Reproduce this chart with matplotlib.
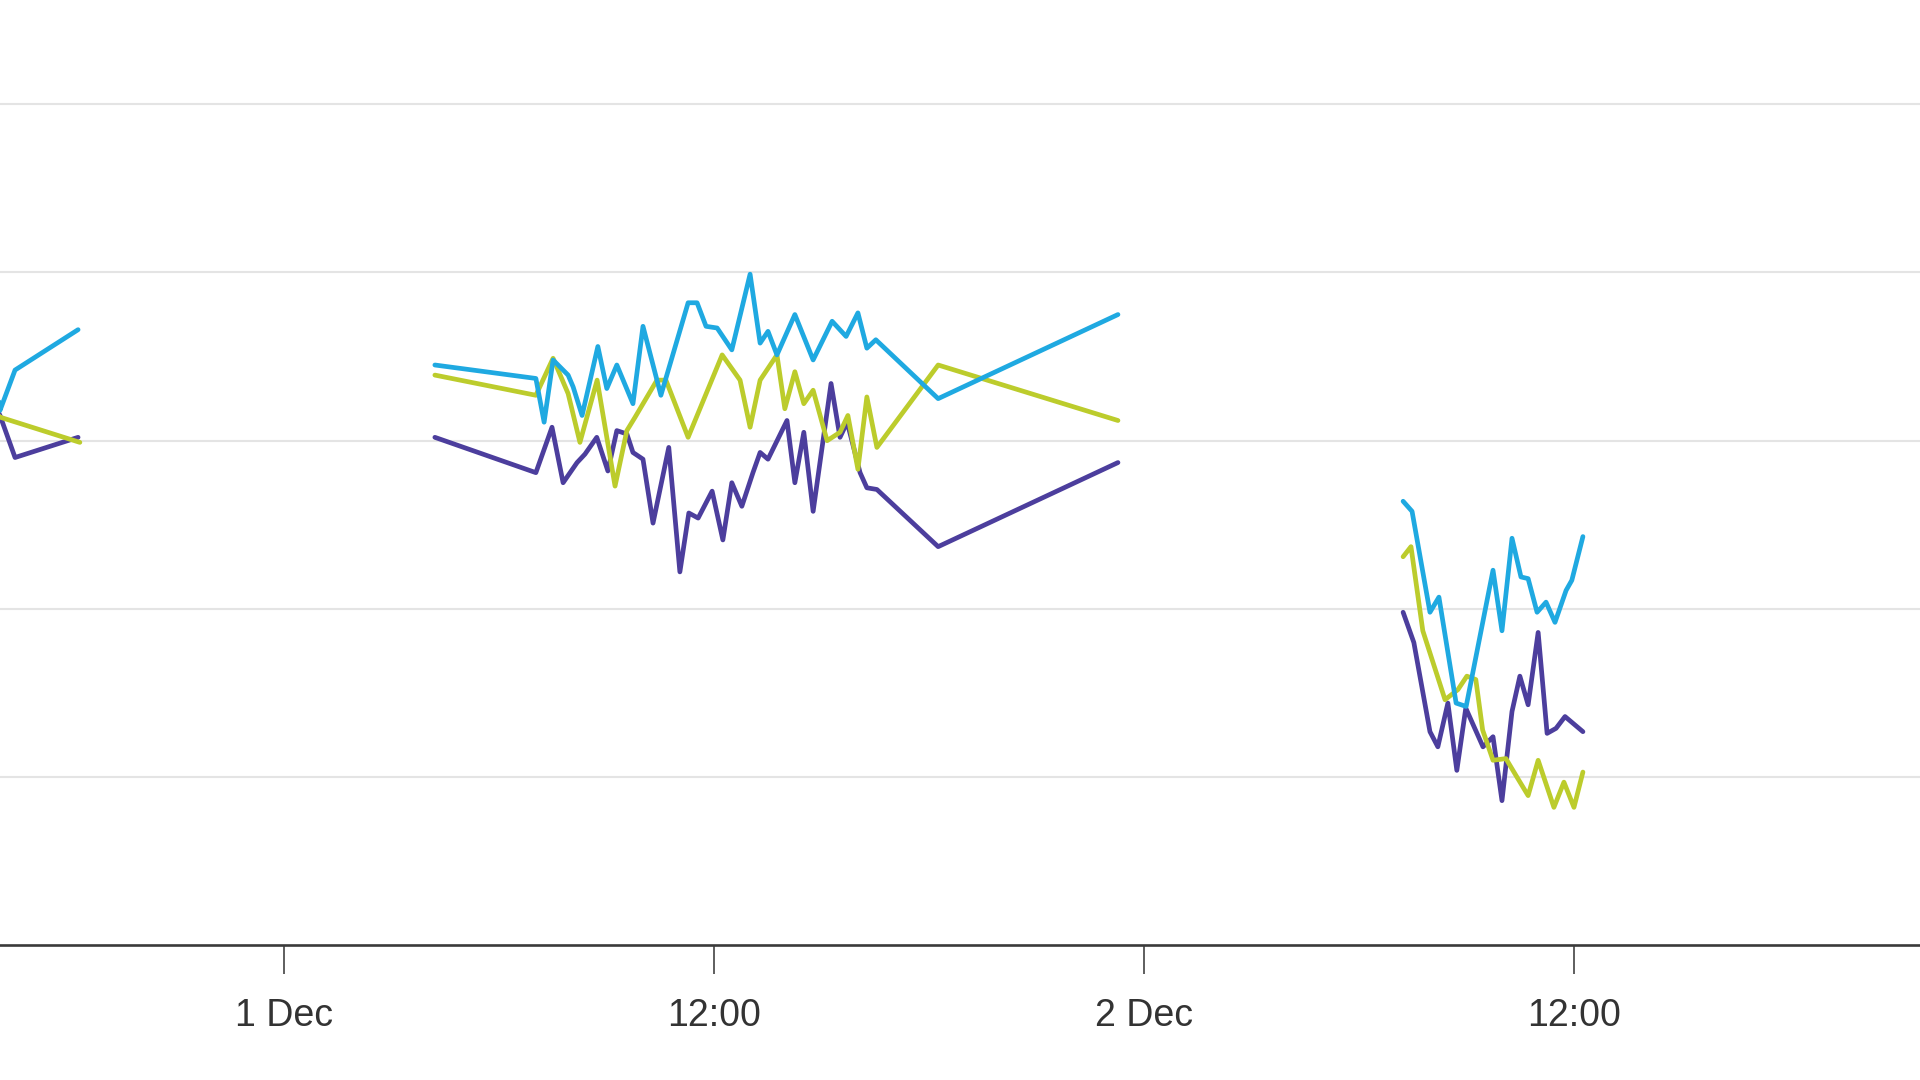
import numpy as np
import pandas as pd
import matplotlib
matplotlib.use('Agg')
import matplotlib.pyplot as plt

# hours after 1 Dec 00:00 (gridlines every 1 unit)
cyan_hours = [-8.16, -7.93, -7.51, -5.75,
              4.21, 7.03, 7.26, 7.51, 7.93, 8.07, 8.32, 8.76, 9.01, 9.29, 9.74,
              10.02, 10.52, 11.28, 11.53, 11.78, 12.09, 12.50, 13.01, 13.29, 13.51,
              13.76, 14.26, 14.77, 15.30, 15.69, 16.02, 16.27, 16.52, 18.26, 23.28,
              31.24, 31.49, 31.99, 32.24, 32.72, 33.00, 33.75, 34.00, 34.28, 34.53,
              34.73, 34.98, 35.23, 35.48, 35.79, 35.95, 36.26]
cyan_vals = [3.60, 3.18, 3.42, 3.66,
             3.45, 3.37, 3.11, 3.48, 3.39, 3.32, 3.15, 3.56, 3.31, 3.45, 3.22,
             3.68, 3.27, 3.82, 3.82, 3.68, 3.67, 3.54, 3.99, 3.58, 3.65,
             3.51, 3.75, 3.48, 3.71, 3.62, 3.76, 3.55, 3.60, 3.25, 3.75,
             2.64, 2.58, 1.98, 2.07, 1.44, 1.42, 2.23, 1.87, 2.42, 2.19,
             2.18, 1.98, 2.04, 1.92, 2.11, 2.17, 2.43]

green_hours = [-8.16, -7.93, -5.70,
               4.21, 7.03, 7.51, 7.93, 8.26, 8.74, 9.24, 9.57, 9.80, 10.41, 10.66,
               11.28, 12.23, 12.73, 13.01, 13.29, 13.76, 13.98, 14.26, 14.51, 14.77,
               15.16, 15.52, 15.74, 16.02, 16.27, 16.55, 18.26, 23.28,
               31.24, 31.46, 31.79, 32.41, 32.77, 33.02, 33.27, 33.46, 33.75, 34.11,
               34.39, 34.73, 35.01, 35.45, 35.73, 36.01, 36.26]
green_vals = [3.20, 3.14, 2.99,
              3.39, 3.27, 3.49, 3.28, 2.99, 3.36, 2.73, 3.06, 3.14, 3.36, 3.36,
              3.02, 3.51, 3.36, 3.08, 3.36, 3.51, 3.19, 3.41, 3.22, 3.30,
              3.00, 3.05, 3.15, 2.83, 3.26, 2.96, 3.45, 3.12,
              2.31, 2.37, 1.87, 1.46, 1.52, 1.60, 1.58, 1.28, 1.10, 1.11,
              1.01, 0.89, 1.10, 0.82, 0.97, 0.82, 1.03]

purple_hours = [-8.16, -7.93, -7.51, -5.75,
                4.21, 7.03, 7.48, 7.79, 8.18, 8.40, 8.73, 9.04, 9.29, 9.57, 9.74,
                10.02, 10.30, 10.74, 11.05, 11.30, 11.56, 11.95, 12.25, 12.50, 12.78,
                13.09, 13.29, 13.51, 14.04, 14.26, 14.51, 14.77, 15.27, 15.52, 15.72,
                16.08, 16.27, 16.55, 18.26, 23.28,
                31.24, 31.54, 31.99, 32.21, 32.49, 32.74, 32.99, 33.47, 33.75, 34.00,
                34.28, 34.50, 34.73, 35.01, 35.26, 35.51, 35.76, 36.26]
purple_vals = [3.25, 3.15, 2.90, 3.02,
               3.02, 2.81, 3.08, 2.75, 2.87, 2.92, 3.02, 2.82, 3.06, 3.04, 2.93,
               2.89, 2.51, 2.96, 2.22, 2.57, 2.54, 2.70, 2.41, 2.75, 2.61,
               2.81, 2.93, 2.89, 3.12, 2.75, 3.05, 2.58, 3.34, 3.02, 3.11,
               2.81, 2.72, 2.71, 2.37, 2.87,
               1.98, 1.80, 1.27, 1.18, 1.44, 1.04, 1.41, 1.18, 1.24, 0.86,
               1.39, 1.60, 1.43, 1.86, 1.26, 1.29, 1.36, 1.27]

tick_hours = [0, 12, 24, 36]
tick_labels = ['1 Dec', '12:00', '2 Dec', '12:00']

start = pd.Timestamp('2023-12-01 00:00')


def to_series(hours, vals):
    # break the line wherever the data has a gap of more than 6 hours
    s = pd.Series(vals, index=start + pd.to_timedelta(hours, unit='h'))
    gaps = s.index.to_series().diff() > pd.Timedelta(hours=6)
    for t in s.index[gaps.values]:
        s[t - pd.Timedelta(minutes=1)] = np.nan
    return s.sort_index()


fig = plt.figure(figsize=(19.2, 10.8), dpi=100)
ax = fig.add_axes([0, 1 - 945.3 / 1080, 1, 945.3 / 1080])

for hours, vals, color in [(purple_hours, purple_vals, '#4c3e9d'),
                           (green_hours, green_vals, '#bccc2c'),
                           (cyan_hours, cyan_vals, '#1fa9e1')]:
    s = to_series(hours, vals)
    ax.plot(s.index, s.values, color=color, lw=3.4,
            solid_joinstyle='round', solid_capstyle='round')

ax.set_xlim(start + pd.Timedelta(hours=-7.93), start + pd.Timedelta(hours=45.67))
ax.set_ylim(0, 5.62)

ax.set_xticks([start + pd.Timedelta(hours=h) for h in tick_hours])
ax.set_xticklabels(tick_labels, fontsize=27, family='Liberation Sans', color='#333333')
ax.tick_params(axis='x', length=21, width=1.1, color='#333333', pad=17)
ax.set_yticks([1, 2, 3, 4, 5])
ax.tick_params(axis='y', left=False, labelleft=False)
ax.grid(axis='y', color='#e4e4e4', lw=1.5)
ax.set_axisbelow(True)

for side in ['left', 'right', 'top']:
    ax.spines[side].set_visible(False)
ax.spines['bottom'].set_color('#3a3a3a')
ax.spines['bottom'].set_linewidth(1.9)

fig.savefig('out.png', dpi=100)
